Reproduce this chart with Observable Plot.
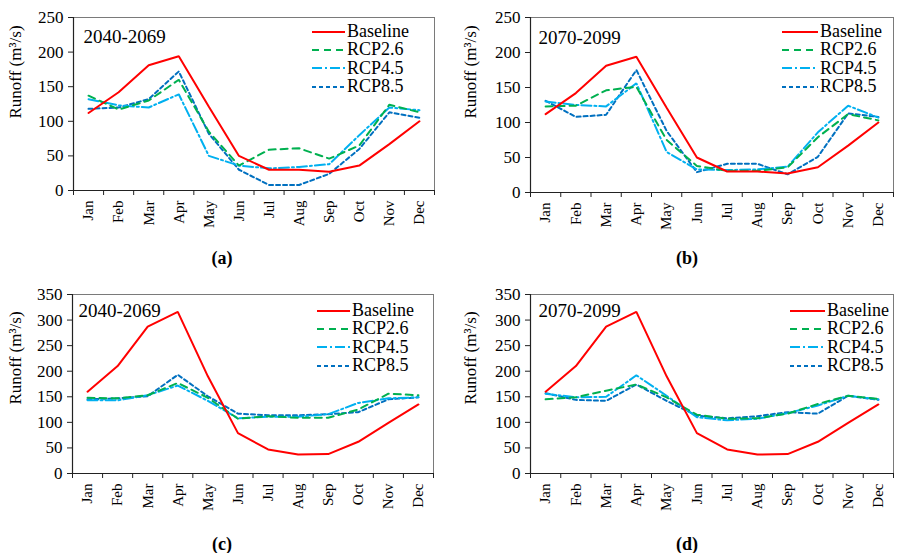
<!DOCTYPE html>
<html><head><meta charset="utf-8">
<script src="https://cdn.jsdelivr.net/npm/d3@7"></script>
<script src="https://cdn.jsdelivr.net/npm/@observablehq/plot@0.6"></script>
<style>
body{margin:0;background:#fff;font-family:"Times New Roman",Times,"Liberation Serif","Nimbus Roman","FreeSerif","DejaVu Serif",serif;color:#000;}
#root{position:relative;width:906px;height:553px;overflow:hidden;background:#fff;}
.panel{position:absolute;}
.panel svg{font-family:"Times New Roman",Times,"Liberation Serif","Nimbus Roman","FreeSerif","DejaVu Serif",serif !important;}
.tag{position:absolute;font-weight:bold;font-size:18px;transform:translate(-50%,-50%);white-space:nowrap;}
.ylab{position:absolute;font-size:17px;white-space:nowrap;transform:translate(-50%,-50%) rotate(-90deg);}
.legend{position:absolute;font-size:18px;}
.legend .row{display:flex;align-items:center;height:18.3px;}
.legend svg{display:block;margin-right:2px;}
</style></head>
<body><div id="root"></div>
<script>
const months = ["Jan","Feb","Mar","Apr","May","Jun","Jul","Aug","Sep","Oct","Nov","Dec"];
const seriesNames = ["Baseline","RCP2.6","RCP4.5","RCP8.5"];
const seriesColors = ["#ff0000","#00b050","#00b0f0","#0070c0"];
const seriesDash = [null,"7,5","10,3,2,3","4,3"];
const yTicksTop = [0,50,100,150,200,250];
const yTicksBottom = [0,50,100,150,200,250,300,350];
const periods = ["2040-2069","2070-2099","2040-2069","2070-2099"];
const panelTags = ["(a)","(b)","(c)","(d)"];
const yLabel = "Runoff (m\u00b3/s)";

// panel (a)/(b) baseline and (c)/(d) baseline
const baselineTop    = [112,142,181,194,121,50,30,30,27,36,67,100];
const baselineBottom = [160,210,287,316,190,79,47,37,38,62,99,135];

const rcp26A = [137,117,130,160,85,36,59,61,46,65,124,113];
const rcp45A = [132,123,120,139,50,36,32,34,38,80,120,116];
const rcp85A = [118,120,132,172,82,30,8,8,24,60,113,105];

const rcp26B = [123,124,146,151,75,38,31,31,36,79,112,103];
const rcp45B = [130,125,123,156,58,33,32,33,37,86,124,107];
const rcp85B = [131,108,111,175,88,29,41,41,26,51,113,108];

const rcp26C = [148,147,153,177,148,107,112,109,109,125,156,153];
const rcp45C = [143,143,153,172,142,108,111,111,116,138,147,149];
const rcp85C = [145,147,151,193,151,117,114,114,116,120,145,149];

const rcp26D = [145,149,162,174,149,115,107,108,117,136,152,146];
const rcp45D = [156,149,150,192,152,110,104,107,118,133,152,145];
const rcp85D = [157,144,142,174,142,113,108,112,120,117,152,144];

const panels = [
  {left:0,   top:0,   w:453, h:276, mL:73, mR:19, mT:17, mB:86, yTicks:yTicksTop,
   series:[baselineTop,rcp26A,rcp45A,rcp85A], titleDx:10, titleDy:19,
   tag:[222,258], ylab:[16,72], legend:[312,22.5,33]},
  {left:453, top:0,   w:453, h:276, mL:77, mR:13, mT:17, mB:84, yTicks:yTicksTop,
   series:[baselineTop,rcp26B,rcp45B,rcp85B], titleDx:8, titleDy:20,
   tag:[687,258], ylab:[471,72], legend:[782,22.5,36]},
  {left:0,   top:276, w:453, h:277, mL:72, mR:20, mT:18, mB:80, yTicks:yTicksBottom,
   series:[baselineBottom,rcp26C,rcp45C,rcp85C], titleDx:6, titleDy:16,
   tag:[222,544], ylab:[16,358], legend:[317,301.5,33]},
  {left:453, top:276, w:453, h:277, mL:77, mR:13, mT:18, mB:80, yTicks:yTicksBottom,
   series:[baselineBottom,rcp26D,rcp45D,rcp85D], titleDx:8, titleDy:16,
   tag:[687,544], ylab:[471,358], legend:[790,301.5,35]}
];

const root = document.getElementById("root");
const monthIdx = months.map((m,i)=>i+1);
const bounds = d3.range(0.5, months.length + 1, 1);

panels.forEach((p, k) => {
  const ymax = p.yTicks[p.yTicks.length-1];
  const lineMarks = p.series.map((vals, s) => Plot.line(vals, {
    x: (d,i) => i+1, y: d => d,
    stroke: seriesColors[s], strokeWidth: 2,
    strokeDasharray: seriesDash[s] || undefined,
    strokeLinejoin: "miter"
  })).reverse();
  const chart = Plot.plot({
    width: p.w, height: p.h,
    marginLeft: p.mL, marginRight: p.mR, marginTop: p.mT, marginBottom: p.mB,
    style: {fontSize: "16px", color: "#000", background: "transparent", overflow: "visible"},
    x: {type: "linear", domain: [0.5, 12.5]},
    y: {domain: [0, ymax]},
    marks: [
      Plot.frame({stroke: "#7a7a7a", strokeWidth: 1}),
      ...lineMarks,
      Plot.ruleY([0], {stroke: "#222", strokeWidth: 1.2}),
      Plot.ruleX([0.5], {stroke: "#222", strokeWidth: 1.2}),
      Plot.axisY({ticks: p.yTicks, tickSize: 5, tickPadding: 5, label: null, fontSize: 17, stroke: "#222"}),
      Plot.axisX({ticks: bounds, tickSize: 5, tickFormat: () => "", label: null, stroke: "#222"}),
      Plot.axisX({ticks: monthIdx, tickSize: 0, tickPadding: 10, tickRotate: -90, tickFormat: i => months[i-1], label: null, fontSize: 15}),
      Plot.text([periods[k]], {frameAnchor: "top-left", dx: p.titleDx, dy: p.titleDy, textAnchor: "start", lineAnchor: "middle", fontSize: 19})
    ]
  });
  const holder = document.createElement("div");
  holder.className = "panel";
  holder.style.left = p.left + "px";
  holder.style.top = p.top + "px";
  holder.appendChild(chart);
  root.appendChild(holder);

  const tag = document.createElement("div");
  tag.className = "tag";
  tag.style.left = p.tag[0] + "px";
  tag.style.top = p.tag[1] + "px";
  tag.textContent = panelTags[k];
  root.appendChild(tag);

  const yl = document.createElement("div");
  yl.className = "ylab";
  yl.style.left = p.ylab[0] + "px";
  yl.style.top = p.ylab[1] + "px";
  yl.textContent = yLabel;
  root.appendChild(yl);

  const lg = document.createElement("div");
  lg.className = "legend";
  lg.style.left = p.legend[0] + "px";
  lg.style.top = p.legend[1] + "px";
  seriesNames.forEach((name, s) => {
    const row = document.createElement("div");
    row.className = "row";
    const len = p.legend[2];
    row.innerHTML = `<svg width="${len}" height="18"><line x1="0" x2="${len}" y1="9" y2="9" stroke="${seriesColors[s]}" stroke-width="2" ${seriesDash[s] ? `stroke-dasharray="${seriesDash[s]}"` : ""}/></svg><span>${name}</span>`;
    lg.appendChild(row);
  });
  root.appendChild(lg);
});
</script>
</body></html>
